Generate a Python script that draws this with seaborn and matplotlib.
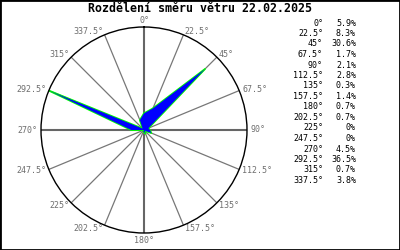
import numpy as np
import matplotlib
matplotlib.use("Agg")
import matplotlib.pyplot as plt
import seaborn as sns
from matplotlib.patches import Rectangle

# ---- data ----
directions = [0, 22.5, 45, 67.5, 90, 112.5, 135, 157.5, 180, 202.5, 225, 247.5, 270, 292.5, 315, 337.5]
percent = [5.9, 8.3, 30.6, 1.7, 2.1, 2.8, 0.3, 1.4, 0.7, 0.7, 0.0, 0.0, 4.5, 36.5, 0.7, 3.8]
dir_labels = ["0°", "22.5°", "45°", "67.5°", "90°", "112.5°", "135°", "157.5°",
              "180°", "202.5°", "225°", "247.5°", "270°", "292.5°", "315°", "337.5°"]
pct_labels = ["5.9%", "8.3%", "30.6%", "1.7%", "2.1%", "2.8%", "0.3%", "1.4%",
              "0.7%", "0.7%", "0%", "0%", "4.5%", "36.5%", "0.7%", "3.8%"]
title = "Rozdělení směru větru 22.02.2025"

sns.set_style("white")
plt.rcParams["font.family"] = ["DejaVu Sans Mono", "DejaVu Sans"]

W, H = 400, 250
fig = plt.figure(figsize=(W / 100, H / 100), dpi=100)
fig.patch.set_facecolor("white")

cx, cy, R = 144, 130, 103
ax = fig.add_axes([(cx - R) / W, (H - cy - R) / H, 2 * R / W, 2 * R / H], projection="polar")
ax.set_theta_zero_location("N")
ax.set_theta_direction(-1)
rmax = max(percent)
ax.set_ylim(0, rmax)
ax.set_yticks([])
ax.yaxis.grid(False)

theta = np.deg2rad(directions)
ax.set_xticks(theta)
ax.set_xticklabels([])
ax.tick_params(axis="x", length=0)
ax.xaxis.grid(True)
for d, tk in zip(directions, ax.xaxis.get_major_ticks()):
    if d % 90 == 0:
        tk.gridline.set_color("#666666")
        tk.gridline.set_linewidth(1.5)
    else:
        tk.gridline.set_color("#777777")
        tk.gridline.set_linewidth(0.9)
ax.spines["polar"].set_color("black")
ax.spines["polar"].set_linewidth(1.0)

# closed polygon
th_c = np.append(theta, theta[0])
pc = np.append(percent, percent[0])
sns.lineplot(x=th_c, y=pc, ax=ax, sort=False, estimator=None, color="#00ff00", linewidth=1.3)
ax.fill(th_c, pc, color="#0000ff", zorder=3, linewidth=0)
ax.set_xlabel("")
ax.set_ylabel("")

# direction labels around the circle
for d, lab in zip(directions, dir_labels):
    t = np.deg2rad(d)
    s = np.sin(t)
    if abs(s) < 1e-6:
        ha = "center"
        r = rmax * (1.065 if d == 0 else 1.07)
    elif s > 0:
        ha = "left"
        r = rmax * 1.03
    else:
        ha = "right"
        r = rmax * 1.03
    ax.text(t, r, lab, ha=ha, va="center", fontsize=6, color="#6e6e6e", clip_on=False)

# title
fig.text(0.5, 1 - 9 / H, title, ha="center", va="center", fontsize=8.4, fontweight="bold", color="black")

# legend listing
y0, dy = 23, 10.5
for i, (dl, pl) in enumerate(zip(dir_labels, pct_labels)):
    y = 1 - (y0 + i * dy) / H
    fig.text(323 / W, y, dl, ha="right", va="center", fontsize=6, color="black")
    fig.text(356 / W, y, pl, ha="right", va="center", fontsize=6, color="black")

fig.patches.append(Rectangle((0, 0), 1, 1, transform=fig.transFigure, fill=False,
                             edgecolor="black", linewidth=2, zorder=10))

fig.savefig("out.png", dpi=100, facecolor="white")
